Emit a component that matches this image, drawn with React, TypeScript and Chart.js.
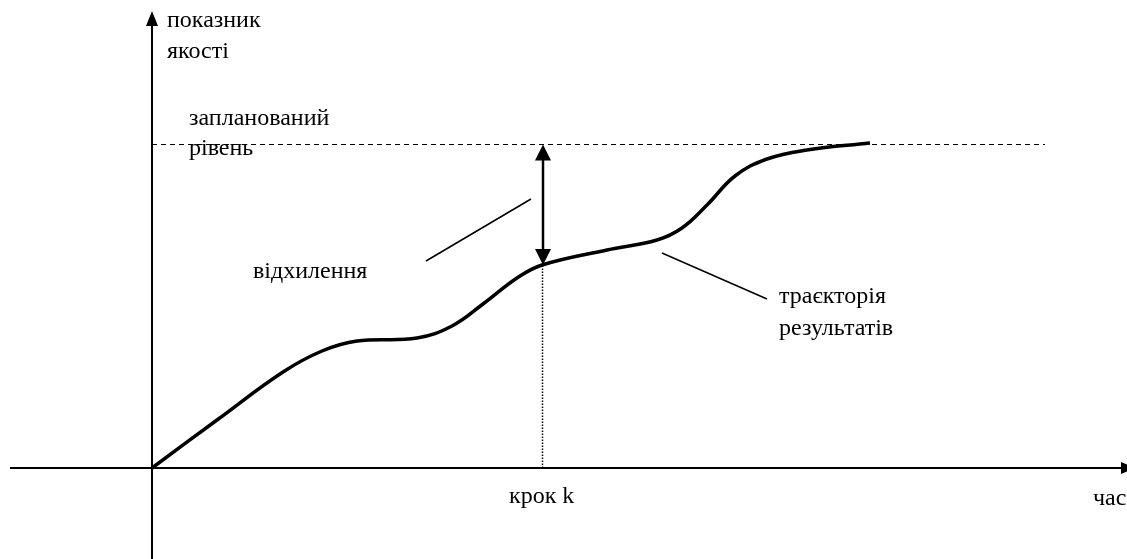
import React, { useEffect, useRef } from "react";
import { Chart, registerables } from "chart.js";

Chart.register(...registerables);

// trajectory of results (time, quality)
const trajectoryTime = [0, 6.5, 13.1, 17.0, 20.5, 26.5, 30.0, 33.1, 36.5, 39.0, 45.5, 50.5, 53.0, 55.5, 58.3, 61.5, 65.5, 71.8];
const trajectoryQuality = [0, 4.8, 9.6, 11.7, 12.7, 13.0, 14.2, 16.4, 19.0, 20.3, 21.8, 22.8, 24.0, 26.3, 29.2, 30.9, 31.8, 32.5];

const plannedLevel = 32.35;
const plannedEnd = 89.3;
const stepK = 39.05;
const stepKQuality = 20.3;

const xRange = [-15.2, 97.5];
const yRange = [-9.1, 46.8];

const labelYAxis = ["показник", "якості"];
const labelPlanned = ["запланований", "рівень"];
const labelDeviation = "відхилення";
const labelTrajectory = ["траєкторія", "результатів"];
const labelStep = "крок k";
const labelTime = "час";

// leader lines (time, quality)
const leaderDeviation = [{ x: 27.4, y: 20.7 }, { x: 37.9, y: 26.9 }];
const leaderTrajectory = [{ x: 51.0, y: 21.5 }, { x: 61.5, y: 16.9 }];

const FONT = '24px "Liberation Serif", "Times New Roman", serif';

const diagramPlugin = {
  id: "diagram",
  beforeDatasetsDraw(chart: any) {
    const { ctx, chartArea } = chart;
    const xs = chart.scales.x;
    const ys = chart.scales.y;
    const x0 = xs.getPixelForValue(0);
    const y0 = ys.getPixelForValue(0);
    ctx.save();
    ctx.strokeStyle = "#000";
    ctx.fillStyle = "#000";
    ctx.lineWidth = 2;
    // y axis
    ctx.beginPath();
    ctx.moveTo(x0, chartArea.bottom);
    ctx.lineTo(x0, 22);
    ctx.stroke();
    ctx.beginPath();
    ctx.moveTo(x0, 11);
    ctx.lineTo(x0 - 6, 26);
    ctx.lineTo(x0 + 6, 26);
    ctx.closePath();
    ctx.fill();
    // x axis
    ctx.beginPath();
    ctx.moveTo(10, y0);
    ctx.lineTo(1124, y0);
    ctx.stroke();
    ctx.beginPath();
    ctx.moveTo(1135, y0);
    ctx.lineTo(1121, y0 - 6);
    ctx.lineTo(1121, y0 + 6);
    ctx.closePath();
    ctx.fill();
    ctx.restore();
  },
  afterDatasetsDraw(chart: any) {
    const { ctx } = chart;
    const xs = chart.scales.x;
    const ys = chart.scales.y;
    // double arrow (deviation)
    const ax = Math.round(xs.getPixelForValue(stepK));
    const aTop = ys.getPixelForValue(plannedLevel);
    const aBot = ys.getPixelForValue(stepKQuality);
    ctx.save();
    ctx.strokeStyle = "#000";
    ctx.fillStyle = "#000";
    ctx.lineWidth = 2.5;
    ctx.beginPath();
    ctx.moveTo(ax, aTop + 10);
    ctx.lineTo(ax, aBot - 10);
    ctx.stroke();
    ctx.beginPath();
    ctx.moveTo(ax, aTop);
    ctx.lineTo(ax - 8, aTop + 16);
    ctx.lineTo(ax + 8, aTop + 16);
    ctx.closePath();
    ctx.fill();
    ctx.beginPath();
    ctx.moveTo(ax, aBot);
    ctx.lineTo(ax - 8, aBot - 16);
    ctx.lineTo(ax + 8, aBot - 16);
    ctx.closePath();
    ctx.fill();

    // texts
    ctx.font = FONT;
    ctx.textAlign = "left";
    ctx.textBaseline = "alphabetic";
    const t = (s: string, x: number, y: number) => ctx.fillText(s, x, y);
    t(labelYAxis[0], 167, 27);
    t(labelYAxis[1], 167, 58);
    t(labelPlanned[0], 189, 125);
    t(labelPlanned[1], 189, 155);
    t(labelDeviation, 253, 278);
    t(labelTrajectory[0], 779, 303);
    t(labelTrajectory[1], 779, 335);
    t(labelStep, 509, 503);
    t(labelTime, 1093, 505);
    ctx.restore();
  },
};

export default function App() {
  const ref = useRef<HTMLCanvasElement | null>(null);
  useEffect(() => {
    if (!ref.current) return;
    const trajectory = trajectoryTime.map((x, i) => ({ x, y: trajectoryQuality[i] }));
    const chart = new Chart(ref.current, {
      type: "line",
      data: {
        datasets: [
          {
            data: trajectory,
            borderColor: "#000",
            borderWidth: 3.5,
            pointRadius: 0,
            tension: 0.4,
            fill: false,
          },
          {
            data: [{ x: 0, y: plannedLevel }, { x: plannedEnd, y: plannedLevel }],
            borderColor: "#000",
            borderWidth: 1,
            borderDash: [5, 4],
            pointRadius: 0,
          },
          {
            data: [{ x: stepK, y: 0 }, { x: stepK, y: stepKQuality }],
            borderColor: "#000",
            borderWidth: 1.5,
            borderDash: [1.5, 1.5],
            pointRadius: 0,
          },
          {
            data: leaderDeviation,
            borderColor: "#000",
            borderWidth: 1.5,
            pointRadius: 0,
          },
          {
            data: leaderTrajectory,
            borderColor: "#000",
            borderWidth: 1.5,
            pointRadius: 0,
          },
        ],
      },
      options: {
        animation: false,
        responsive: true,
        maintainAspectRatio: false,
        layout: { padding: 0 },
        plugins: { legend: { display: false }, tooltip: { enabled: false } },
        events: [],
        scales: {
          x: { type: "linear", min: xRange[0], max: xRange[1], display: false },
          y: { type: "linear", min: yRange[0], max: yRange[1], display: false },
        },
      },
      plugins: [diagramPlugin],
    } as any);
    return () => chart.destroy();
  }, []);
  return (
    <div style={{ position: "fixed", left: 0, top: 0, width: 1127, height: 559, background: "#fff" }}>
      <canvas ref={ref} />
    </div>
  );
}
